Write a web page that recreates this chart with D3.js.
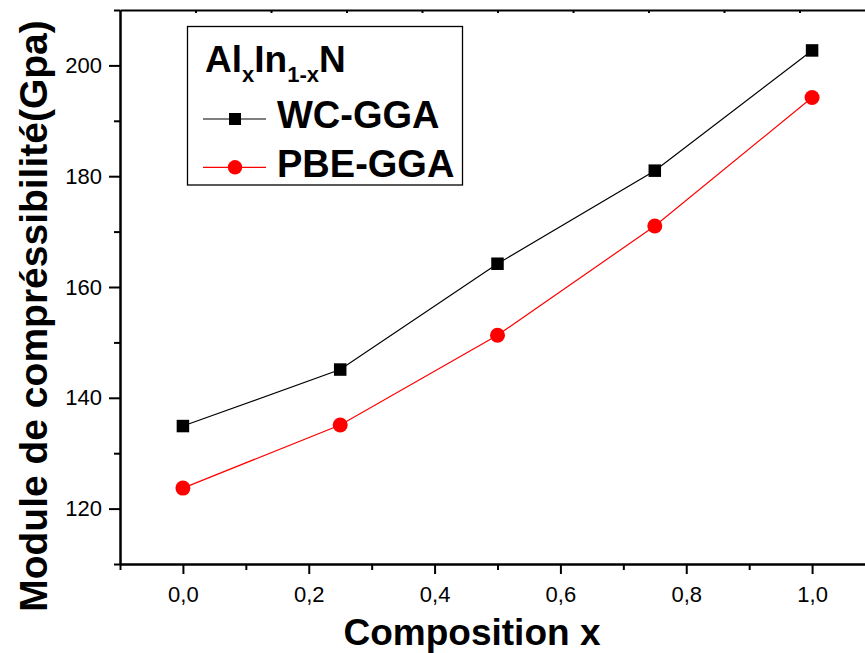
<!DOCTYPE html>
<html>
<head>
<meta charset="utf-8">
<script src="https://cdn.jsdelivr.net/npm/d3@7"></script>
<style>
  html, body { margin: 0; padding: 0; background: #fff; }
  svg { display: block; font-family: "Liberation Sans", Arial, sans-serif; }
</style>
</head>
<body>
<svg id="chart" width="865" height="653"></svg>
<script>
// ---- data ----
const composition = [0, 0.25, 0.5, 0.75, 1.0];
const wcGGA  = [134.9, 145.1, 164.2, 181.0, 202.7];
const pbeGGA = [123.7, 135.1, 151.3, 171.0, 194.2];
const seriesNames = ["WC-GGA", "PBE-GGA"];
const xMajorTicks = [0, 0.2, 0.4, 0.6, 0.8, 1.0];
const xMinorTicks = [-0.1, 0.1, 0.3, 0.5, 0.7, 0.9];
const xTopTicks = [0.02, 0.14, 0.26, 0.38, 0.5, 0.62, 0.74, 0.86, 0.98];
const yMajorTicks = [120, 140, 160, 180, 200];
const yMinorTicks = [110, 130, 150, 170, 190, 210];

const svg = d3.select("#chart");
const x = d3.scaleLinear().domain([-0.1, 1.1]).range([120, 875]);
const y = d3.scaleLinear().domain([110, 210]).range([564, 10]);
const fmt = d => d3.format(".1f")(d).replace(".", ",");

function styleAxis(g, fs) {
  g.attr("font-size", null).attr("font-family", null);
  g.selectAll("path.domain").attr("stroke", "#000").attr("stroke-width", 2);
  g.selectAll(".tick line").attr("stroke", "#000").attr("stroke-width", 2);
  g.selectAll(".tick text")
    .style("font-size", fs + "px")
    .style("font-family", "'Liberation Sans', Arial, sans-serif")
    .attr("fill", "#000");
}

// bottom axis
const gxMinor = svg.append("g").attr("transform", "translate(0,564)")
  .call(d3.axisBottom(x).tickValues(xMinorTicks).tickSize(6).tickSizeOuter(0).tickFormat(""));
styleAxis(gxMinor, 22);
const gx = svg.append("g").attr("transform", "translate(0,564)")
  .call(d3.axisBottom(x).tickValues(xMajorTicks).tickSize(10).tickSizeOuter(0).tickPadding(12).tickFormat(fmt));
styleAxis(gx, 22);

// top axis (inner ticks)
const gt = svg.append("g").attr("transform", "translate(0,10)")
  .call(d3.axisBottom(x).tickValues(xTopTicks).tickSize(3).tickSizeOuter(0).tickFormat(""));
styleAxis(gt, 22);

// left axis
const gyMinor = svg.append("g").attr("transform", "translate(120,0)")
  .call(d3.axisLeft(y).tickValues(yMinorTicks).tickSize(6).tickSizeOuter(0).tickFormat(""));
styleAxis(gyMinor, 22);
const gy = svg.append("g").attr("transform", "translate(120,0)")
  .call(d3.axisLeft(y).tickValues(yMajorTicks).tickSize(11).tickSizeOuter(0).tickPadding(7).tickFormat(d3.format("d")));
styleAxis(gy, 22);

// lines
const line = d3.line().x((d, i) => x(composition[i])).y(d => y(d));
svg.append("path").datum(wcGGA).attr("d", line)
  .attr("fill", "none").attr("stroke", "#000").attr("stroke-width", 1.2);
svg.append("path").datum(pbeGGA).attr("d", line)
  .attr("fill", "none").attr("stroke", "#ff0000").attr("stroke-width", 1.2);

// markers
const sq = 12.5;
svg.append("g").selectAll("rect").data(wcGGA).join("rect")
  .attr("x", (d, i) => x(composition[i]) - sq / 2)
  .attr("y", d => y(d) - sq / 2)
  .attr("width", sq).attr("height", sq).attr("fill", "#000");
svg.append("g").selectAll("circle").data(pbeGGA).join("circle")
  .attr("cx", (d, i) => x(composition[i]))
  .attr("cy", d => y(d))
  .attr("r", 7.5).attr("fill", "#ff0000");

// axis titles
svg.append("text").attr("x", 472).attr("y", 645).attr("text-anchor", "middle")
  .attr("font-size", 37).attr("font-weight", "bold").text("Composition x");
svg.append("text").attr("transform", "translate(47,316) rotate(-90)")
  .attr("text-anchor", "middle").attr("font-size", 39).attr("font-weight", "bold")
  .text("Module de compréssibilité(Gpa)");

// legend
const lg = svg.append("g");
lg.append("rect").attr("x", 187.5).attr("y", 26.5).attr("width", 275).attr("height", 158.5)
  .attr("fill", "#fff").attr("stroke", "#000").attr("stroke-width", 1.3);
const title = lg.append("text").attr("x", 205).attr("y", 71.5)
  .attr("font-size", 37).attr("font-weight", "bold");
title.append("tspan").text("Al");
title.append("tspan").attr("font-size", 22).attr("dy", 10).text("x");
title.append("tspan").attr("dy", -10).text("In");
title.append("tspan").attr("font-size", 22).attr("dy", 10).text("1-x");
title.append("tspan").attr("dy", -10).text("N");

const legY = [119, 167.3];
// WC-GGA
lg.append("line").attr("x1", 203).attr("x2", 266).attr("y1", legY[0]).attr("y2", legY[0])
  .attr("stroke", "#000").attr("stroke-width", 1.2);
lg.append("rect").attr("x", 235 - 6).attr("y", legY[0] - 6).attr("width", 12).attr("height", 12).attr("fill", "#000");
lg.append("text").attr("x", 277).attr("y", 128.3).attr("font-size", 38).attr("font-weight", "bold").text(seriesNames[0]);
// PBE-GGA
lg.append("line").attr("x1", 203).attr("x2", 266).attr("y1", legY[1]).attr("y2", legY[1])
  .attr("stroke", "#ff0000").attr("stroke-width", 1.2);
lg.append("circle").attr("cx", 235).attr("cy", legY[1]).attr("r", 7.2).attr("fill", "#ff0000");
lg.append("text").attr("x", 277).attr("y", 176.7).attr("font-size", 38).attr("font-weight", "bold").text(seriesNames[1]);
</script>
</body>
</html>
